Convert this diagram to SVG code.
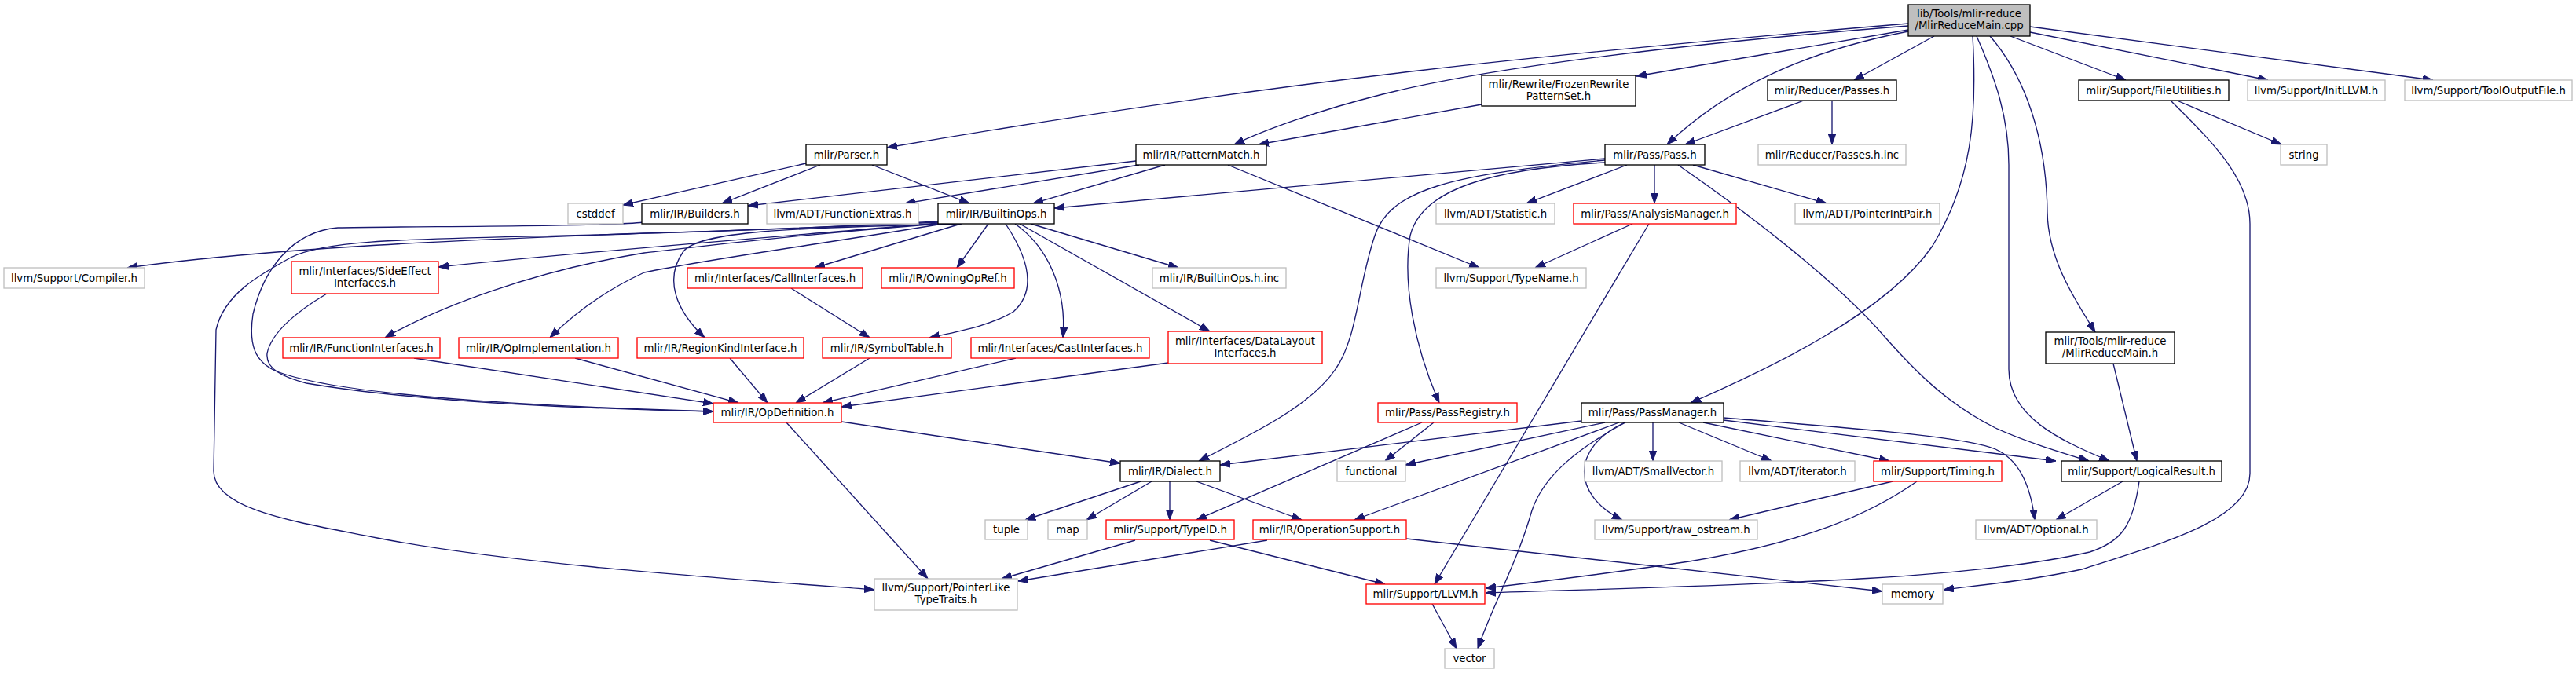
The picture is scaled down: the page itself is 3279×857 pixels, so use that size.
<svg xmlns="http://www.w3.org/2000/svg" width="3279" height="857" viewBox="0 0 3279 857">
<style>
.e{fill:none;stroke:#191970;stroke-width:1.33;marker-end:url(#ah)}
.n rect{fill:#fff;stroke-width:1.33}
.blk rect{stroke:#000}
.gry rect{stroke:#bfbfbf}
.red rect{stroke:#ff0000}
.root rect{fill:#bfbfbf;stroke:#000}
text{font-family:"DejaVu Sans","Liberation Sans",sans-serif;font-size:13.3px;fill:#000;text-anchor:middle}
</style>
<defs>
<marker id="ah" viewBox="0 0 13 10" refX="13" refY="5" markerWidth="13" markerHeight="10" orient="auto" markerUnits="userSpaceOnUse">
<path d="M0,0.4 L13,5 L0,9.6 z" fill="#191970" stroke="#191970" stroke-width="1"/>
</marker>
</defs>
<rect width="3279" height="857" fill="#fff"/>
<g id="edges">
<path class="e" d="M2429,30 C2000,66 1640,100 1129,188"/>
<path class="e" d="M2429,33 C2150,55 1900,85 1760,120 C1680,140 1610,165 1571,184"/>
<path class="e" d="M2429,38 L2083,97"/>
<path class="e" d="M2429,40 C2300,65 2200,110 2122,184"/>
<path class="e" d="M2462,46 L2360,102"/>
<path class="e" d="M2511,46 C2517,150 2510,230 2460,313 C2400,400 2250,470 2152,513"/>
<path class="e" d="M2516,46 C2540,100 2557,150 2557,210 L2557,470 C2557,530 2620,560 2685,587"/>
<path class="e" d="M2533,46 C2580,100 2605,180 2606,270 C2607,330 2640,380 2667,423"/>
<path class="e" d="M2559,46 L2706,102"/>
<path class="e" d="M2584,41 L2887,102"/>
<path class="e" d="M2584,34 L3097,102"/>
<path class="e" d="M2771,128 L2904,184"/>
<path class="e" d="M2763,128 C2810,175 2864,225 2864,285 L2864,603 C2864,660 2760,690 2650,725 C2580,740 2520,745 2474,751"/>
<path class="e" d="M2690,463 L2720,587"/>
<path class="e" d="M2702,613 L2617,662"/>
<path class="e" d="M2723,613 C2715,670 2700,690 2660,703 C2500,740 2200,745 1891,755"/>
<path class="e" d="M2296,128 L2145,184"/>
<path class="e" d="M2332,128 L2332,184"/>
<path class="e" d="M2043,202 L1342,265"/>
<path class="e" d="M2043,204 C1850,222 1770,240 1750,300 C1728,365 1728,430 1700,470 C1670,515 1600,550 1526,587"/>
<path class="e" d="M2043,207 C1900,215 1810,240 1795,300 C1785,360 1800,440 1832,513"/>
<path class="e" d="M2071,210 L1943,259"/>
<path class="e" d="M2106,210 L2106,259"/>
<path class="e" d="M2155,210 L2325,259"/>
<path class="e" d="M2136,210 C2230,275 2340,360 2400,430 C2440,475 2480,515 2540,545 C2580,563 2620,575 2659,587"/>
<path class="e" d="M1446,205 L952,262"/>
<path class="e" d="M1450,210 L1152,259"/>
<path class="e" d="M1483,210 L1315,259"/>
<path class="e" d="M1563,210 L1883,341"/>
<path class="e" d="M1886,133 L1602,184"/>
<path class="e" d="M1026,208 L793,261"/>
<path class="e" d="M1044,210 L919,259"/>
<path class="e" d="M1110,210 L1234,259"/>
<path class="e" d="M2078,285 L1954,341"/>
<path class="e" d="M2099,285 L1826,744"/>
<path class="e" d="M1194,282 C1000,292 900,295 820,297 C600,305 350,315 162,341"/>
<path class="e" d="M1194,283 C1000,292 850,296 800,298 C550,305 420,302 370,328 C330,350 285,375 275,420 L272,600 C272,650 380,665 480,685 C650,718 900,735 1113,751"/>
<path class="e" d="M1194,284 C1050,297 800,315 558,340"/>
<path class="e" d="M1194,285 C1000,300 880,315 820,322 C680,345 560,390 490,430"/>
<path class="e" d="M1194,286 C1050,310 900,330 820,347 C770,370 730,400 700,430"/>
<path class="e" d="M1225,285 C1000,290 890,295 870,320 C845,355 860,395 897,430"/>
<path class="e" d="M1223,285 L1037,341"/>
<path class="e" d="M1258,285 L1218,341"/>
<path class="e" d="M1280,285 C1310,330 1320,370 1290,397 C1260,415 1220,422 1183,430"/>
<path class="e" d="M1292,285 C1335,315 1358,370 1353,430"/>
<path class="e" d="M1298,285 L1540,422"/>
<path class="e" d="M1312,285 L1500,341"/>
<path class="e" d="M818,283 C780,289 500,288 430,290 C370,295 335,345 322,400 C316,440 325,460 350,472 C430,505 700,518 908,524"/>
<path class="e" d="M416,374 C375,398 345,425 340,450 C338,470 360,480 390,488 C520,510 720,520 908,524"/>
<path class="e" d="M527,456 L908,514"/>
<path class="e" d="M732,456 L940,513"/>
<path class="e" d="M929,456 L977,513"/>
<path class="e" d="M1107,456 L1013,513"/>
<path class="e" d="M1293,456 L1047,513"/>
<path class="e" d="M1487,462 L1071,518"/>
<path class="e" d="M1007,367 L1107,430"/>
<path class="e" d="M1071,537 L1426,590"/>
<path class="e" d="M1001,538 L1181,737"/>
<path class="e" d="M1452,613 L1305,662"/>
<path class="e" d="M1466,613 L1383,662"/>
<path class="e" d="M1489,613 L1489,662"/>
<path class="e" d="M1523,613 L1657,662"/>
<path class="e" d="M1810,538 L1523,662"/>
<path class="e" d="M1825,538 L1763,587"/>
<path class="e" d="M2013,536 L1553,592"/>
<path class="e" d="M2043,538 L1789,592"/>
<path class="e" d="M2061,538 L1724,662"/>
<path class="e" d="M2104,538 L2104,587"/>
<path class="e" d="M2137,538 L2255,587"/>
<path class="e" d="M2168,538 L2405,587"/>
<path class="e" d="M2194,535 L2617,587"/>
<path class="e" d="M2194,532 C2350,545 2500,555 2540,572 C2570,585 2585,620 2590,662"/>
<path class="e" d="M2068,538 C2000,570 2000,630 2065,662"/>
<path class="e" d="M2069,538 C2010,570 1965,605 1950,650 C1930,720 1900,770 1881,826"/>
<path class="e" d="M2409,613 L2201,662"/>
<path class="e" d="M2440,613 C2380,655 2300,690 2150,715 C2050,730 1950,742 1891,749"/>
<path class="e" d="M1445,688 L1275,737"/>
<path class="e" d="M1540,688 L1763,744"/>
<path class="e" d="M1613,688 L1296,740"/>
<path class="e" d="M1790,686 L2396,753"/>
<path class="e" d="M1823,769 L1854,826"/>
</g>
<g id="n0" class="n root"><rect x="2429" y="6" width="155" height="40"/><text x="2506.5" y="22">lib/Tools/mlir-reduce</text><text x="2506.5" y="37">/MlirReduceMain.cpp</text></g>
<g id="n1" class="n blk"><rect x="1026" y="184" width="103" height="26"/><text x="1077.5" y="201.5">mlir/Parser.h</text></g>
<g id="n2" class="n blk"><rect x="1446" y="184" width="166" height="26"/><text x="1529" y="201.5">mlir/IR/PatternMatch.h</text></g>
<g id="n3" class="n blk"><rect x="1886" y="96" width="196" height="39"/><text x="1984" y="112">mlir/Rewrite/FrozenRewrite</text><text x="1984" y="127">PatternSet.h</text></g>
<g id="n4" class="n blk"><rect x="2250" y="102" width="164" height="26"/><text x="2332" y="119.5">mlir/Reducer/Passes.h</text></g>
<g id="n5" class="n blk"><rect x="2043" y="184" width="127" height="26"/><text x="2106.5" y="201.5">mlir/Pass/Pass.h</text></g>
<g id="n6" class="n blk"><rect x="2013" y="513" width="181" height="25"/><text x="2103.5" y="530">mlir/Pass/PassManager.h</text></g>
<g id="n7" class="n blk"><rect x="2624" y="587" width="204" height="26"/><text x="2726" y="604.5">mlir/Support/LogicalResult.h</text></g>
<g id="n8" class="n blk"><rect x="2604" y="423" width="164" height="40"/><text x="2686" y="439">mlir/Tools/mlir-reduce</text><text x="2686" y="454">/MlirReduceMain.h</text></g>
<g id="n9" class="n blk"><rect x="2646" y="102" width="191" height="26"/><text x="2741.5" y="119.5">mlir/Support/FileUtilities.h</text></g>
<g id="n10" class="n gry"><rect x="2861" y="102" width="175" height="26"/><text x="2948.5" y="119.5">llvm/Support/InitLLVM.h</text></g>
<g id="n11" class="n gry"><rect x="3061" y="102" width="213" height="26"/><text x="3167.5" y="119.5">llvm/Support/ToolOutputFile.h</text></g>
<g id="n12" class="n gry"><rect x="2903" y="184" width="59" height="26"/><text x="2932.5" y="201.5">string</text></g>
<g id="n13" class="n gry"><rect x="2238" y="184" width="188" height="26"/><text x="2332" y="201.5">mlir/Reducer/Passes.h.inc</text></g>
<g id="n14" class="n gry"><rect x="723" y="259" width="70" height="26"/><text x="758" y="276.5">cstddef</text></g>
<g id="n15" class="n blk"><rect x="817" y="259" width="135" height="26"/><text x="884.5" y="276.5">mlir/IR/Builders.h</text></g>
<g id="n16" class="n gry"><rect x="976" y="259" width="193" height="26"/><text x="1072.5" y="276.5">llvm/ADT/FunctionExtras.h</text></g>
<g id="n17" class="n blk"><rect x="1194" y="259" width="148" height="26"/><text x="1268" y="276.5">mlir/IR/BuiltinOps.h</text></g>
<g id="n18" class="n gry"><rect x="1828" y="259" width="151" height="26"/><text x="1903.5" y="276.5">llvm/ADT/Statistic.h</text></g>
<g id="n19" class="n red"><rect x="2003" y="259" width="207" height="26"/><text x="2106.5" y="276.5">mlir/Pass/AnalysisManager.h</text></g>
<g id="n20" class="n gry"><rect x="2285" y="259" width="184" height="26"/><text x="2377" y="276.5">llvm/ADT/PointerIntPair.h</text></g>
<g id="n21" class="n gry"><rect x="5" y="341" width="179" height="26"/><text x="94.5" y="358.5">llvm/Support/Compiler.h</text></g>
<g id="n22" class="n red"><rect x="371" y="333" width="187" height="41"/><text x="464.5" y="350">mlir/Interfaces/SideEffect</text><text x="464.5" y="365">Interfaces.h</text></g>
<g id="n23" class="n red"><rect x="875" y="341" width="223" height="26"/><text x="986.5" y="358.5">mlir/Interfaces/CallInterfaces.h</text></g>
<g id="n24" class="n red"><rect x="1122" y="341" width="169" height="26"/><text x="1206.5" y="358.5">mlir/IR/OwningOpRef.h</text></g>
<g id="n25" class="n gry"><rect x="1467" y="341" width="170" height="26"/><text x="1552" y="358.5">mlir/IR/BuiltinOps.h.inc</text></g>
<g id="n26" class="n gry"><rect x="1828" y="341" width="191" height="26"/><text x="1923.5" y="358.5">llvm/Support/TypeName.h</text></g>
<g id="n27" class="n red"><rect x="360" y="430" width="200" height="26"/><text x="460" y="447.5">mlir/IR/FunctionInterfaces.h</text></g>
<g id="n28" class="n red"><rect x="584" y="430" width="203" height="26"/><text x="685.5" y="447.5">mlir/IR/OpImplementation.h</text></g>
<g id="n29" class="n red"><rect x="811" y="430" width="212" height="26"/><text x="917" y="447.5">mlir/IR/RegionKindInterface.h</text></g>
<g id="n30" class="n red"><rect x="1047" y="430" width="164" height="26"/><text x="1129" y="447.5">mlir/IR/SymbolTable.h</text></g>
<g id="n31" class="n red"><rect x="1236" y="430" width="227" height="26"/><text x="1349.5" y="447.5">mlir/Interfaces/CastInterfaces.h</text></g>
<g id="n32" class="n red"><rect x="1487" y="422" width="196" height="41"/><text x="1585" y="439">mlir/Interfaces/DataLayout</text><text x="1585" y="454">Interfaces.h</text></g>
<g id="n33" class="n red"><rect x="908" y="513" width="163" height="25"/><text x="989.5" y="530">mlir/IR/OpDefinition.h</text></g>
<g id="n34" class="n red"><rect x="1754" y="513" width="177" height="25"/><text x="1842.5" y="530">mlir/Pass/PassRegistry.h</text></g>
<g id="n35" class="n blk"><rect x="1426" y="587" width="127" height="26"/><text x="1489.5" y="604.5">mlir/IR/Dialect.h</text></g>
<g id="n36" class="n gry"><rect x="1702" y="587" width="87" height="26"/><text x="1745.5" y="604.5">functional</text></g>
<g id="n37" class="n gry"><rect x="2017" y="587" width="175" height="26"/><text x="2104.5" y="604.5">llvm/ADT/SmallVector.h</text></g>
<g id="n38" class="n gry"><rect x="2215" y="587" width="146" height="26"/><text x="2288" y="604.5">llvm/ADT/iterator.h</text></g>
<g id="n39" class="n red"><rect x="2385" y="587" width="163" height="26"/><text x="2466.5" y="604.5">mlir/Support/Timing.h</text></g>
<g id="n40" class="n gry"><rect x="1254" y="662" width="54" height="25"/><text x="1281" y="679">tuple</text></g>
<g id="n41" class="n gry"><rect x="1334" y="662" width="50" height="25"/><text x="1359" y="679">map</text></g>
<g id="n42" class="n red"><rect x="1408" y="662" width="163" height="25"/><text x="1489.5" y="679">mlir/Support/TypeID.h</text></g>
<g id="n43" class="n red"><rect x="1595" y="662" width="195" height="25"/><text x="1692.5" y="679">mlir/IR/OperationSupport.h</text></g>
<g id="n44" class="n gry"><rect x="2030" y="662" width="207" height="25"/><text x="2133.5" y="679">llvm/Support/raw_ostream.h</text></g>
<g id="n45" class="n gry"><rect x="2515" y="662" width="154" height="25"/><text x="2592" y="679">llvm/ADT/Optional.h</text></g>
<g id="n46" class="n gry"><rect x="1113" y="737" width="182" height="40"/><text x="1204" y="753">llvm/Support/PointerLike</text><text x="1204" y="768">TypeTraits.h</text></g>
<g id="n47" class="n red"><rect x="1739" y="744" width="151" height="25"/><text x="1814.5" y="761">mlir/Support/LLVM.h</text></g>
<g id="n48" class="n gry"><rect x="2396" y="744" width="77" height="25"/><text x="2434.5" y="761">memory</text></g>
<g id="n49" class="n gry"><rect x="1839" y="826" width="63" height="25"/><text x="1870.5" y="843">vector</text></g>
</svg>
